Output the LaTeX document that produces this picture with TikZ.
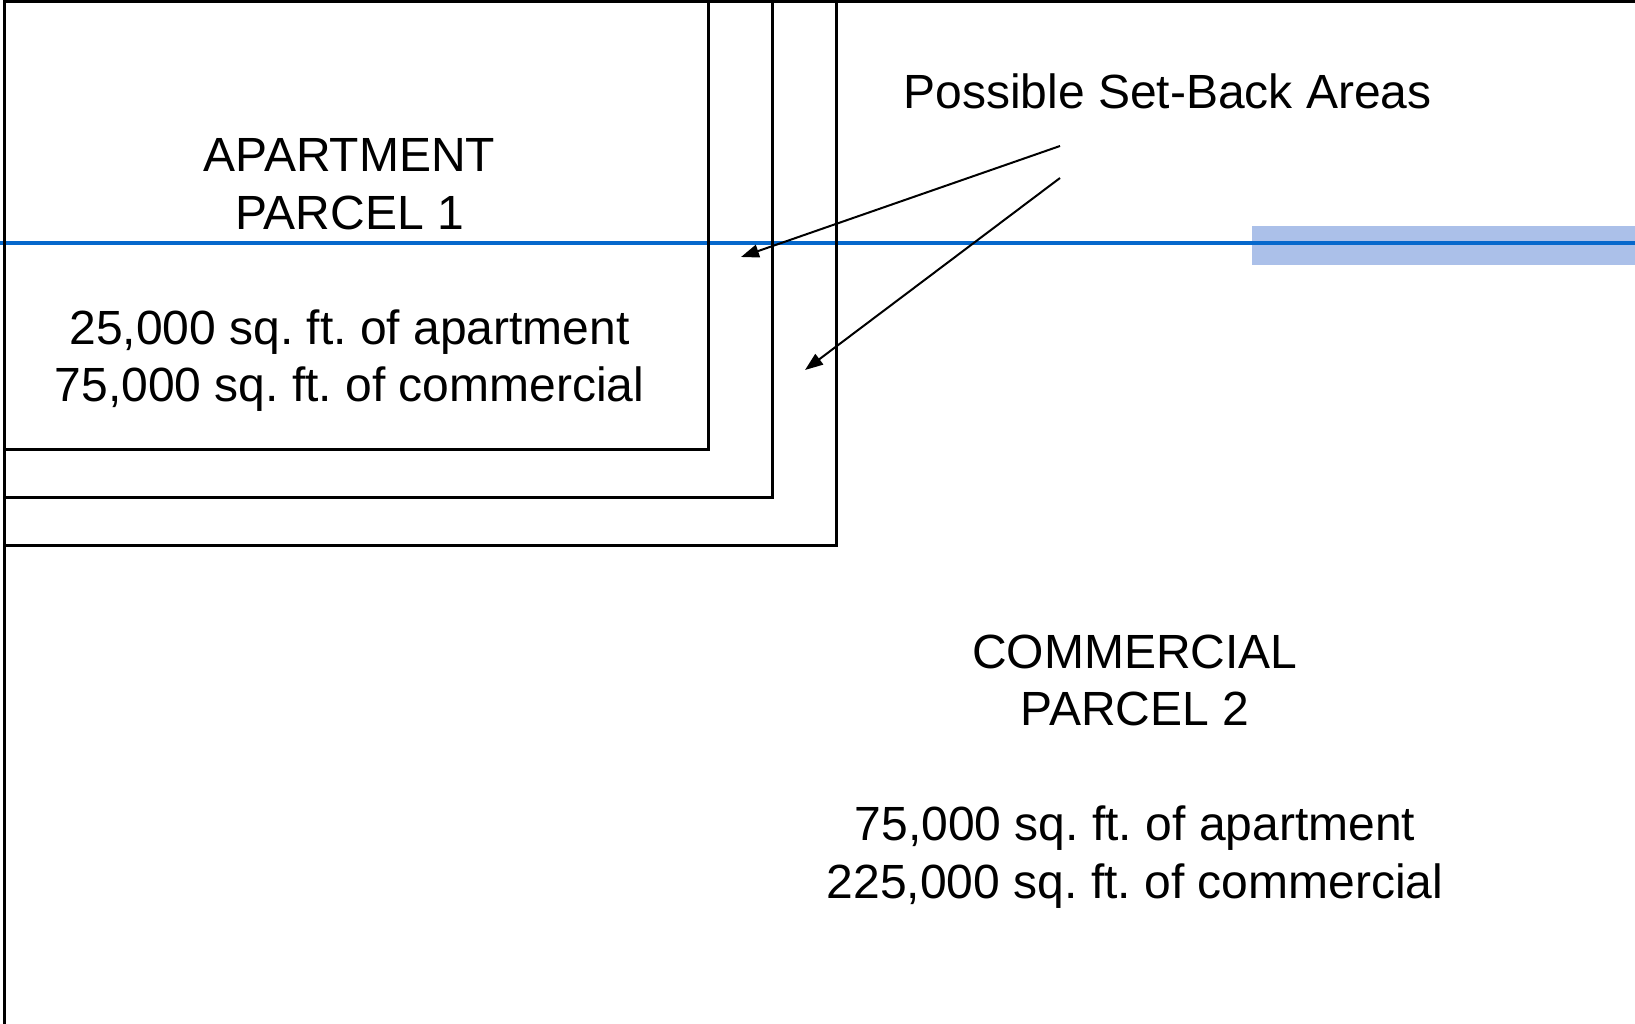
\documentclass[tikz,border=0pt]{standalone}
\usepackage{fontspec}
\setmainfont{Liberation Sans}
\usetikzlibrary{arrows.meta}
\definecolor{barblue}{HTML}{ABC0E9}
\definecolor{lineblue}{HTML}{0668CC}
\frenchspacing
\tikzset{
  border/.style={line width=3pt, black, line cap=rect},
  txt/.style={inner sep=0pt, anchor=base, font=\fontsize{48}{57.5}\selectfont},
  pointer/.style={line width=2pt, -{Triangle[length=18pt,width=13pt]}}
}
\begin{document}
\begin{tikzpicture}[x=1pt,y=-1pt]
\useasboundingbox (0,0) rectangle (1635,1024);
% blue bar and line
\fill[barblue] (1252,226) rectangle (1635,265);
\draw[lineblue, line width=4pt] (0,243) -- (1635,243);
% frame and set-back boxes
\draw[border] (1635,2) -- (4.5,2) -- (4.5,1030);
\draw[border] (4.5,449) -| (708,2);
\draw[border] (4.5,497) -| (772,2);
\draw[border] (4.5,545) -| (836,2);
% texts
\node[txt] (lbl) at (1167.5,108.5) {Possible Set-Back Areas};
\node[txt] (p1) at (349.5,172) {\begin{tabular}[t]{@{}c@{}}APARTMENT\\PARCEL 1\\ \\25,000 sq. ft. of apartment\\75,000 sq. ft. of commercial\end{tabular}};
\node[txt] (p2) at (1135,668) {\begin{tabular}[t]{@{}c@{}}COMMERCIAL\\PARCEL 2\\ \\75,000 sq. ft. of apartment\\225,000 sq. ft. of commercial\end{tabular}};
% arrows
\coordinate (s1) at (1060,146);
\coordinate (e1) at (741,257);
\coordinate (s2) at (1060,178);
\coordinate (e2) at (805,370);
\draw[pointer] (s1) -- (e1);
\draw[pointer] (s2) -- (e2);
\end{tikzpicture}
\end{document}
